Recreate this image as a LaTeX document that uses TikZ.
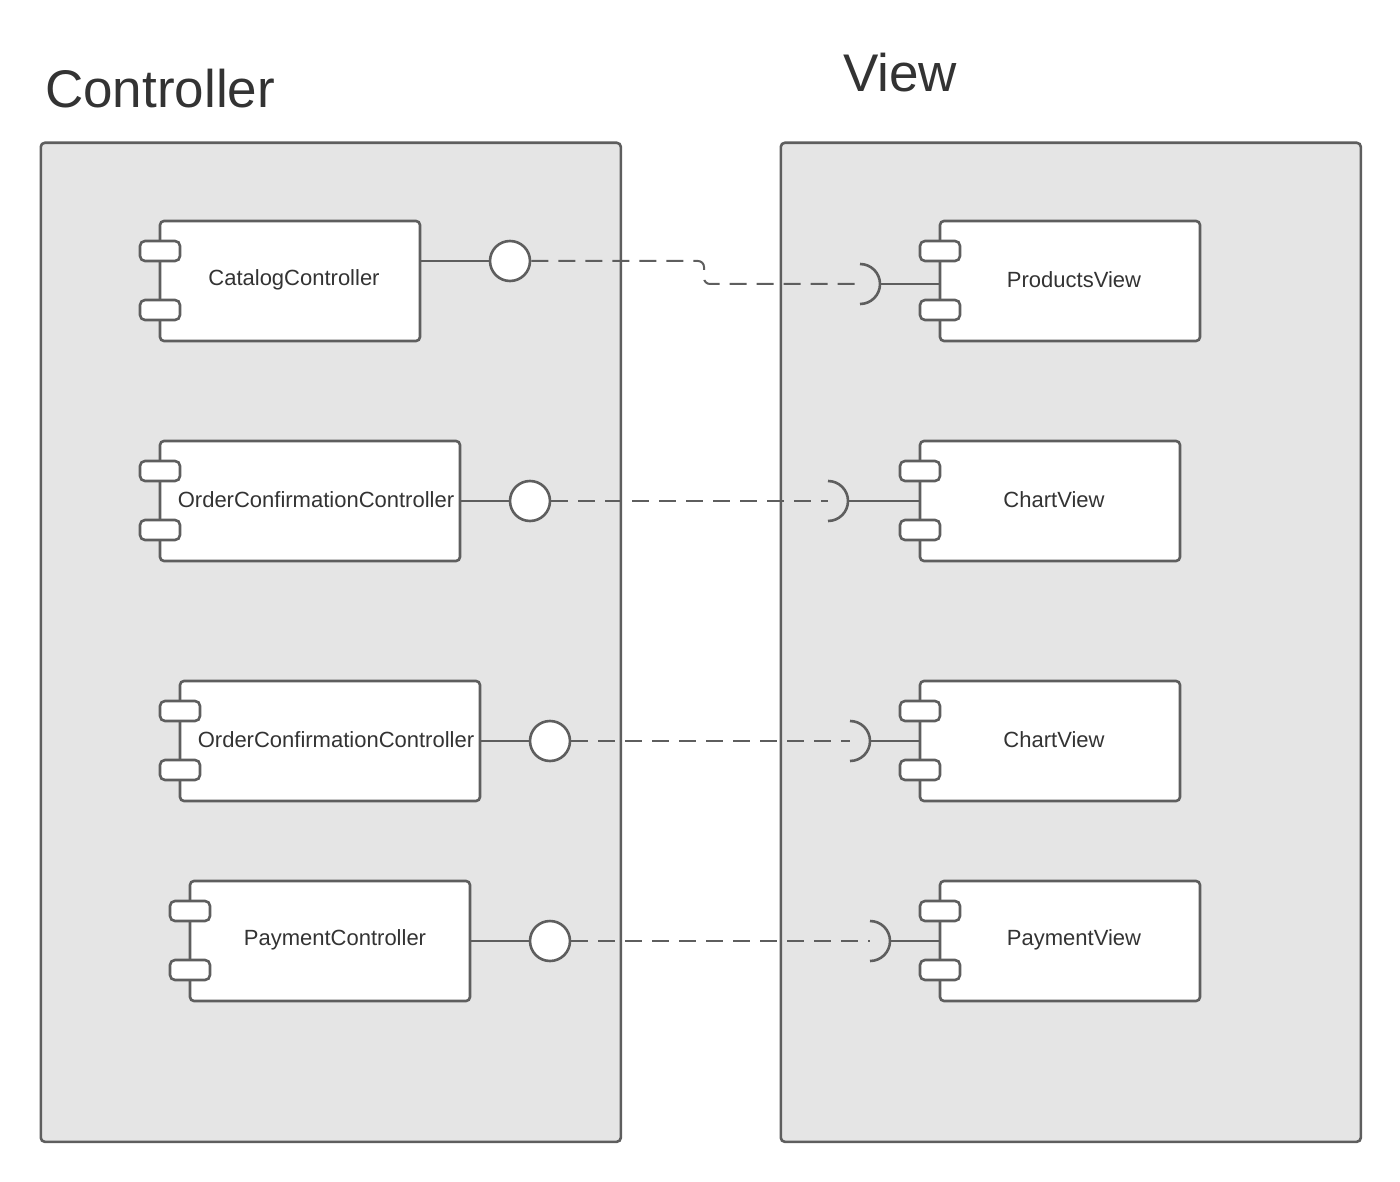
\documentclass[tikz,border=0pt]{standalone}
\usepackage{fontspec}
\setmainfont{Liberation Sans}
\usetikzlibrary{calc}
\definecolor{lc}{HTML}{5E5E5E}
\definecolor{pkgfill}{HTML}{E5E5E5}
\definecolor{tc}{HTML}{333333}
\begin{document}
\begin{tikzpicture}[x=1pt,y=-1pt,
  pkg/.style={draw=lc, fill=pkgfill, line width=2.6pt, rounded corners=4pt},
  title/.style={anchor=base west, inner sep=0pt, text=tc, font=\fontsize{53}{60}\selectfont},
  comp/.style={draw=lc, fill=white, line width=2.6pt, rounded corners=4pt, minimum height=120pt, inner sep=0pt, text=tc, font=\fontsize{22}{26}\selectfont},
  lbl/.style={text=tc, font=\fontsize{22}{26}\selectfont, inner sep=0pt},
  port/.style={draw=lc, fill=white, line width=2.6pt, rounded corners=5pt, minimum width=40pt, minimum height=20pt, inner sep=0pt},
  ball/.style={circle, draw=lc, fill=white, line width=2.6pt, minimum size=40pt, inner sep=0pt},
  wire/.style={draw=lc, line width=2pt},
  dep/.style={draw=lc, line width=2pt, dash pattern=on 17pt off 10pt},
  sock/.style={draw=lc, line width=2.6pt}
]
\useasboundingbox (0,0) rectangle (1400,1182);
% packages
\node[pkg, minimum width=580pt, minimum height=999pt, anchor=north west] (ctrl) at (39.5,141.5) {};
\node[pkg, minimum width=580pt, minimum height=999pt, anchor=north west] (view) at (779.5,141.5) {};
\node[title] (ctrlt) at (45,108) {Controller};
\node[title] (viewt) at (843,92) {View};

% ---- row 1
\node[comp, minimum width=260pt] (cc) at (290,281) {};
\node[lbl] (cct) at (294,280) {CatalogController};
\node[port] (cc1) at (160,251) {};
\node[port] (cc2) at (160,310) {};
\node[ball] (b1) at (510,261) {};
\coordinate (s1) at (860,284);
\node[comp, minimum width=260pt] (pv) at (1070,281) {};
\node[lbl] (pvt) at (1074,280) {ProductsView};
\node[port] (pv1) at (940,251) {};
\node[port] (pv2) at (940,310) {};
\draw[wire] (cc.east |- b1) -- (b1.west);
\draw[dep, rounded corners=6pt] (b1.east) -- (704,261) -- (704,284) -- (s1);
\draw[sock] (s1) ++(0,-20) arc[start angle=-90, end angle=90, radius=20];
\draw[wire] ($(s1)+(20,0)$) -- (pv.west |- s1);

% ---- row 2
\node[comp, minimum width=300pt] (oc) at (310,501) {};
\node[lbl] (oct) at (316,500) {OrderConfirmationController};
\node[port] (oc1) at (160,471) {};
\node[port] (oc2) at (160,530) {};
\node[ball] (b2) at (530,501) {};
\coordinate (s2) at (828,501);
\node[comp, minimum width=260pt] (cv) at (1050,501) {};
\node[lbl] (cvt) at (1054,500) {ChartView};
\node[port] (cv1) at (920,471) {};
\node[port] (cv2) at (920,530) {};
\draw[wire] (oc.east) -- (b2.west);
\draw[dep] (b2.east) -- (s2);
\draw[sock] (s2) ++(0,-20) arc[start angle=-90, end angle=90, radius=20];
\draw[wire] ($(s2)+(20,0)$) -- (cv.west);

% ---- row 3
\node[comp, minimum width=300pt] (oc3) at (330,741) {};
\node[lbl] (oc3t) at (336,740) {OrderConfirmationController};
\node[port] (oc31) at (180,711) {};
\node[port] (oc32) at (180,770) {};
\node[ball] (b3) at (550,741) {};
\coordinate (s3) at (850,741);
\node[comp, minimum width=260pt] (cv3) at (1050,741) {};
\node[lbl] (cv3t) at (1054,740) {ChartView};
\node[port] (cv31) at (920,711) {};
\node[port] (cv32) at (920,770) {};
\draw[wire] (oc3.east) -- (b3.west);
\draw[dep] (b3.east) -- (s3);
\draw[sock] (s3) ++(0,-20) arc[start angle=-90, end angle=90, radius=20];
\draw[wire] ($(s3)+(20,0)$) -- (cv3.west);

% ---- row 4
\node[comp, minimum width=280pt] (pc) at (330,941) {};
\node[lbl] (pct) at (335,940) {PaymentController};
\node[port] (pc1) at (190,911) {};
\node[port] (pc2) at (190,970) {};
\node[ball] (b4) at (550,941) {};
\coordinate (s4) at (870,941);
\node[comp, minimum width=260pt] (pw) at (1070,941) {};
\node[lbl] (pwt) at (1074,940) {PaymentView};
\node[port] (pw1) at (940,911) {};
\node[port] (pw2) at (940,970) {};
\draw[wire] (pc.east) -- (b4.west);
\draw[dep] (b4.east) -- (s4);
\draw[sock] (s4) ++(0,-20) arc[start angle=-90, end angle=90, radius=20];
\draw[wire] ($(s4)+(20,0)$) -- (pw.west);
\end{tikzpicture}
\end{document}
